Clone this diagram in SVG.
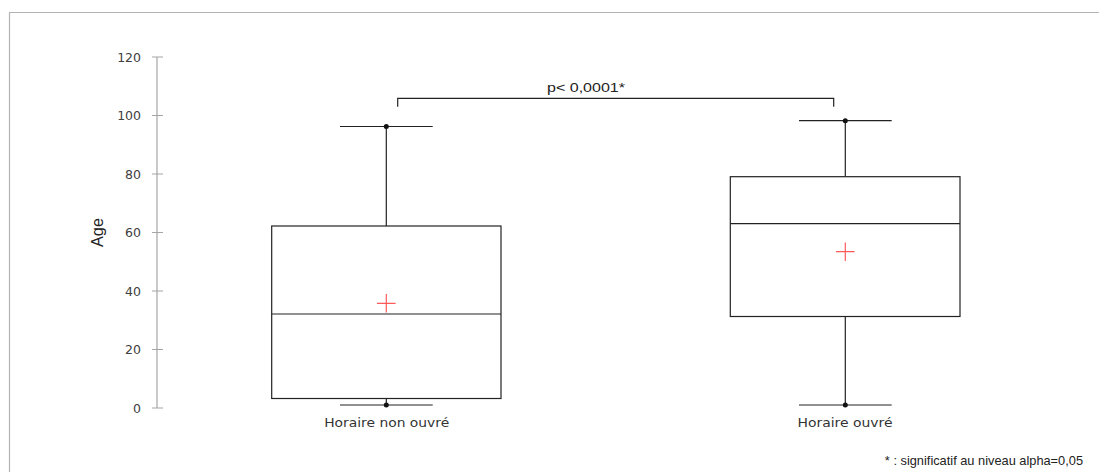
<svg xmlns="http://www.w3.org/2000/svg" width="1099" height="472" viewBox="0 0 1099 472">
<style>
.frame{fill:none;stroke:#b4b4b4;stroke-width:1.2}
.axis{stroke:#a6a6a6;stroke-width:1.2;fill:none}
.tick{font-family:"DejaVu Sans",sans-serif;font-size:12.5px;fill:#404040;text-anchor:end}
.box{fill:#fff;stroke:#222;stroke-width:1.2}
.ln{stroke:#222;stroke-width:1.2;fill:none}
.mean{stroke:#ff5a5a;stroke-width:1.2;fill:none}
.dot{fill:#111}
.cat{font-family:"DejaVu Sans",sans-serif;font-size:12.5px;fill:#333;text-anchor:middle}
.lbl{font-family:"Liberation Sans",Arial,sans-serif;fill:#222}
</style>
<rect width="1099" height="472" fill="#fff"/>
<path class="frame" d="M9.5,472V12.5H1099"/>
<g id="yaxis">
<path class="axis" d="M157,57V408M152,57H163M152,115.5H163M152,174H163M152,232.5H163M152,291H163M152,349.5H163M152,408H163"/>
<text class="tick" x="141" y="61.5">120</text>
<text class="tick" x="141" y="120">100</text>
<text class="tick" x="141" y="178.5">80</text>
<text class="tick" x="141" y="237">60</text>
<text class="tick" x="141" y="295.5">40</text>
<text class="tick" x="141" y="354">20</text>
<text class="tick" x="141" y="412.5">0</text>
<text class="lbl" font-size="16.5" text-anchor="middle" transform="translate(103,232.5) rotate(-90)" textLength="29" lengthAdjust="spacingAndGlyphs">Age</text>
</g>
<g id="connectors">
<path class="ln" d="M397.7,106.7V98.3H833.7V106.7"/>
<text class="lbl" font-size="13.5" x="547" y="92" textLength="78" lengthAdjust="spacingAndGlyphs">p&lt; 0,0001*</text>
</g>
<g id="box-non-ouvre">
<path class="ln" d="M386.3,126.5V226M340,126.5H432.7M386.3,398.5V405M340,405H432.7"/>
<rect class="box" x="271.7" y="226" width="229.3" height="172.5"/>
<path class="ln" d="M271.7,314H501"/>
<path class="mean" d="M377,303.3H395.6M386.3,294V312.6"/>
<circle class="dot" cx="386.3" cy="126.5" r="2.5"/>
<circle class="dot" cx="386.3" cy="405" r="2.5"/>
<text class="cat" x="386.7" y="427" textLength="125" lengthAdjust="spacingAndGlyphs">Horaire non ouvré</text>
</g>
<g id="box-ouvre">
<path class="ln" d="M845.3,120.7V176.7M799,120.7H891.7M845.3,316.5V405M799,405H891.7"/>
<rect class="box" x="730.3" y="176.7" width="229.7" height="139.8"/>
<path class="ln" d="M730.3,223.7H960"/>
<path class="mean" d="M836,251.7H854.6M845.3,242.4V261"/>
<circle class="dot" cx="845.3" cy="120.7" r="2.5"/>
<circle class="dot" cx="845.3" cy="405" r="2.5"/>
<text class="cat" x="845" y="427" textLength="95" lengthAdjust="spacingAndGlyphs">Horaire ouvré</text>
</g>
<text class="lbl" font-size="12.8" x="1083" y="465" text-anchor="end">* : significatif au niveau alpha=0,05</text>
</svg>
